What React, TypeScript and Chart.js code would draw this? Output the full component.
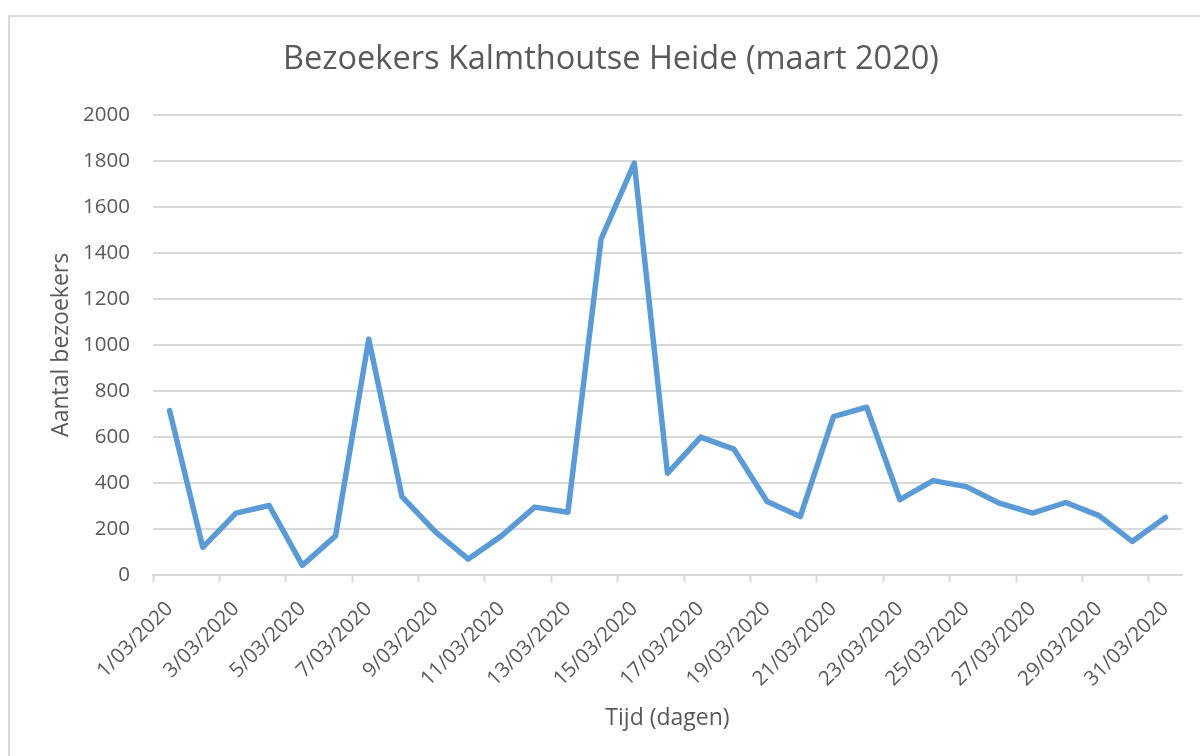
import React, { useEffect, useRef } from 'react';
import { Chart, registerables } from 'chart.js';

Chart.register(...registerables);

const chartTitle = 'Bezoekers Kalmthoutse Heide (maart 2020)';
const xAxisTitle = 'Tijd (dagen)';
const yAxisTitle = 'Aantal bezoekers';

const dates = [
  '1/03/2020', '2/03/2020', '3/03/2020', '4/03/2020', '5/03/2020', '6/03/2020',
  '7/03/2020', '8/03/2020', '9/03/2020', '10/03/2020', '11/03/2020', '12/03/2020',
  '13/03/2020', '14/03/2020', '15/03/2020', '16/03/2020', '17/03/2020', '18/03/2020',
  '19/03/2020', '20/03/2020', '21/03/2020', '22/03/2020', '23/03/2020', '24/03/2020',
  '25/03/2020', '26/03/2020', '27/03/2020', '28/03/2020', '29/03/2020', '30/03/2020',
  '31/03/2020',
];

const visitors = [
  714, 120, 269, 302, 42, 170, 1025, 341, 188, 69, 170, 295, 273, 1460, 1790,
  442, 599, 547, 319, 254, 688, 729, 327, 410, 384, 312, 269, 315, 258, 146, 250,
];

const yMin = 0;
const yMax = 2000;
const yStep = 200;

const FONT = '"Open Sans", "Noto Sans", sans-serif';
const TEXT = '#595959';
const GRID = '#d9d9d9';
const LINE = '#5b9bd5';

export default function App() {
  const canvasRef = useRef<HTMLCanvasElement | null>(null);

  useEffect(() => {
    const canvas = canvasRef.current;
    if (!canvas) return;
    const chart = new Chart(canvas, {
      type: 'line',
      data: {
        labels: dates,
        datasets: [
          {
            data: visitors,
            borderColor: LINE,
            backgroundColor: LINE,
            borderWidth: 5.5,
            pointRadius: 0,
            pointHoverRadius: 0,
            tension: 0,
            fill: false,
            borderJoinStyle: 'round',
            borderCapStyle: 'round',
          },
        ],
      },
      options: {
        responsive: false,
        animation: false,
        devicePixelRatio: 1,
        layout: { padding: { left: 40, right: 18, top: 20, bottom: 0 } },
        plugins: {
          legend: { display: false },
          tooltip: { enabled: false },
          title: {
            display: true,
            text: chartTitle,
            color: TEXT,
            font: { family: FONT, size: 32.5, weight: 'normal', lineHeight: 1.2 },
            padding: { top: 20, bottom: 35.7 },
          },
        },
        scales: {
          x: {
            type: 'category',
            offset: true,
            grid: {
              display: true,
              drawOnChartArea: false,
              drawTicks: true,
              tickLength: 7,
              offset: true,
              tickWidth: 2,
              tickColor: (ctx: any) =>
                typeof ctx.index === 'number' && ctx.index % 2 === 0 ? GRID : 'rgba(0,0,0,0)',
            },
            border: { display: true, color: GRID, width: 2 },
            ticks: {
              autoSkip: false,
              minRotation: 45,
              maxRotation: 45,
              padding: 15,
              color: TEXT,
              font: { family: FONT, size: 20.5 },
              callback: (_v: any, i: number) => (i % 2 === 0 ? dates[i] : ''),
            },
            title: {
              display: true,
              text: xAxisTitle,
              color: TEXT,
              font: { family: FONT, size: 23, lineHeight: 1.2 },
              padding: { top: 0, bottom: 24 },
            },
            afterFit: (s: any) => {
              s.height = 181;
            },
          },
          y: {
            min: yMin,
            max: yMax,
            ticks: {
              stepSize: yStep,
              padding: 23,
              color: TEXT,
              font: { family: FONT, size: 20.5 },
              callback: (v: any) => String(v),
            },
            grid: { color: GRID, lineWidth: 2, drawTicks: false },
            border: { display: false },
            title: {
              display: true,
              text: yAxisTitle,
              color: TEXT,
              font: { family: FONT, size: 23, lineHeight: 1.2 },
              padding: { top: 8, bottom: 0 },
            },
            afterFit: (s: any) => {
              s.width = 113;
            },
          },
        },
      },
    });
    return () => chart.destroy();
  }, []);

  return (
    <div
      style={{
        position: 'fixed',
        left: 0,
        top: 0,
        width: 1200,
        height: 756,
        overflow: 'hidden',
        background: '#ffffff',
      }}
    >
      <div
        style={{
          position: 'absolute',
          left: 8,
          top: 15,
          width: 1300,
          height: 900,
          borderLeft: `2px solid ${GRID}`,
          borderTop: `2px solid ${GRID}`,
        }}
      />
      <canvas
        ref={canvasRef}
        width={1200}
        height={756}
        style={{ position: 'absolute', left: 0, top: 0, width: 1200, height: 756 }}
      />
    </div>
  );
}
